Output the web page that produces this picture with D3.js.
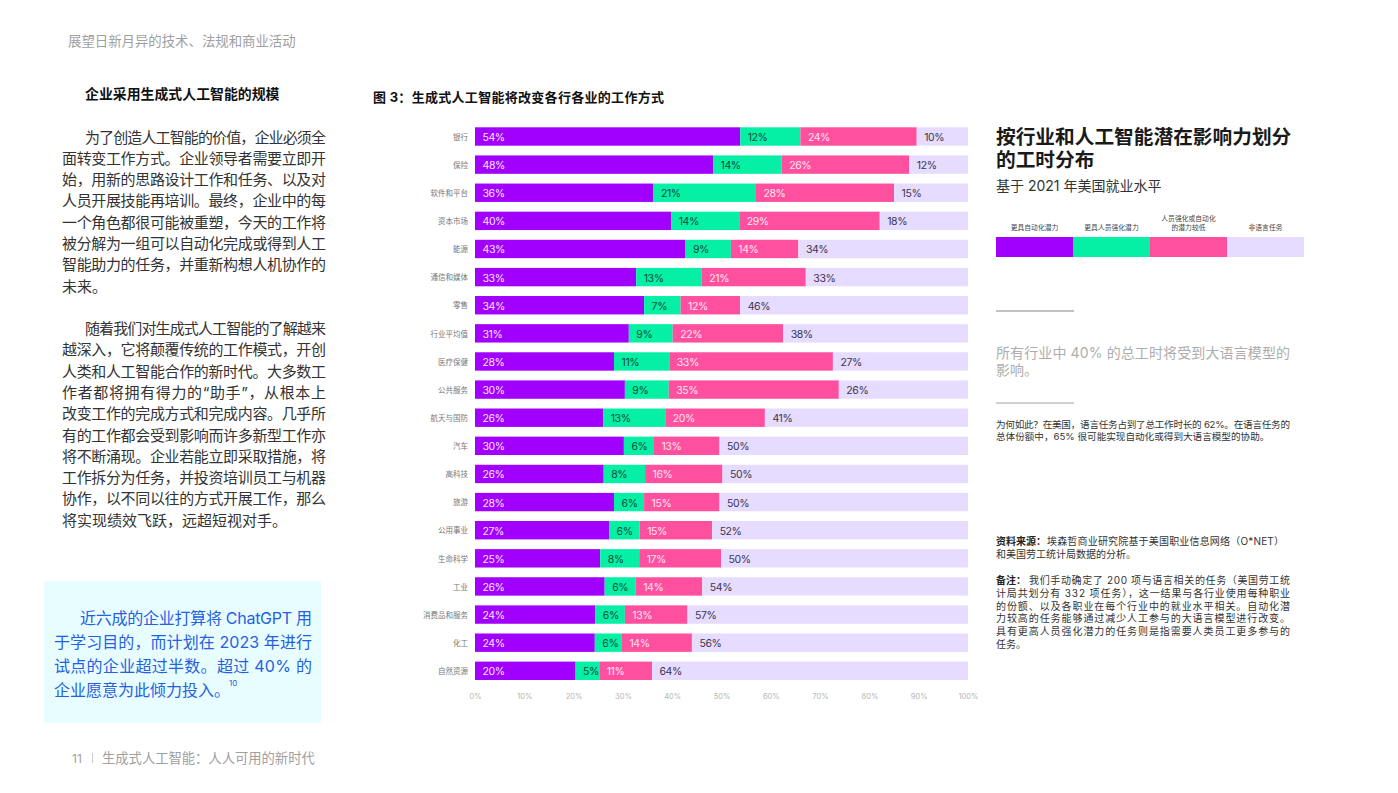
<!DOCTYPE html>
<html lang="zh-CN">
<head>
<meta charset="utf-8">
<script src="https://cdn.jsdelivr.net/npm/d3@7"></script>
<style>
  html, body { margin: 0; padding: 0; background: #fff; overflow: hidden; }
  text { font-family: Inter, "Noto Sans CJK SC", sans-serif; }
</style>
</head>
<body>
<svg id="page" width="1398" height="793"></svg>
<script>
// chart data
const industries = ["银行", "保险", "软件和平台", "资本市场", "能源", "通信和媒体", "零售", "行业平均值", "医疗保健", "公共服务",
  "航天与国防", "汽车", "高科技", "旅游", "公用事业", "生命科学", "工业", "消费品和服务", "化工", "自然资源"];
const automation = [53.8, 48.3, 36.2, 39.8, 42.7, 32.7, 34.3, 31.2, 28.2, 30.4, 26, 30.2, 26.1, 28.2, 27.2, 25.4, 26.3, 24.4, 24.3, 20.4];
const augmentation = [12.2, 13.9, 20.8, 13.8, 9.2, 13.3, 7.4, 8.9, 11.2, 8.9, 12.6, 6.1, 8.4, 6.1, 6.2, 7.9, 6.3, 6, 5.5, 4.8];
const lowPotential = [23.6, 25.9, 28, 28.5, 13.7, 21.1, 12.1, 22.4, 33.2, 34.5, 20.2, 13.3, 15.7, 15.3, 14.7, 16.6, 13.5, 12.7, 14.2, 10.7];
const nonLanguage = [10.4, 11.9, 15, 17.9, 34.4, 32.9, 46.2, 37.5, 27.4, 26.2, 41.2, 50.4, 49.8, 50.4, 51.9, 50.1, 53.9, 56.9, 56, 64.1];
const xTicks = [0, 10, 20, 30, 40, 50, 60, 70, 80, 90, 100];

const seriesKeys = ["automation", "augmentation", "lowPotential", "nonLanguage"];
const seriesColors = ["#a100ff", "#05f0a5", "#ff50a0", "#e6dcff"];
const labelColors = ["#f6e6ff", "#0b4a3a", "#ffe6f2", "#3a3550"];
const legendLabels = [["更具自动化潜力"], ["更具人员强化潜力"], ["人员强化或自动化", "的潜力较低"], ["非语言任务"]];

// page text, full width punctuation written as escapes
const para1 = ["为了创造人工智能的价值\uFF0C企业必须全", "面转变工作方式。企业领导者需要立即开", "始\uFF0C用新的思路设计工作和任务、以及对", "人员开展技能再培训。最终\uFF0C企业中的每",
  "一个角色都很可能被重塑\uFF0C今天的工作将", "被分解为一组可以自动化完成或得到人工", "智能助力的任务\uFF0C并重新构想人机协作的", "未来。"];
const para2 = ["随着我们对生成式人工智能的了解越来", "越深入\uFF0C它将颠覆传统的工作模式\uFF0C开创", "人类和人工智能合作的新时代。大多数工", "作者都将拥有得力的\u201C助手\u201D\uFF0C从根本上",
  "改变工作的完成方式和完成内容。几乎所", "有的工作都会受到影响而许多新型工作亦", "将不断涌现。企业若能立即采取措施\uFF0C将", "工作拆分为任务\uFF0C并投资培训员工与机器",
  "协作\uFF0C以不同以往的方式开展工作\uFF0C那么", "将实现绩效飞跃\uFF0C远超短视对手。"];
const callout = ["近六成的企业打算将 ChatGPT 用", "于学习目的\uFF0C而计划在 2023 年进行", "试点的企业超过半数。超过 40% 的", "企业愿意为此倾力投入。"];
const whyText = ["为何如此\uFF1F在美国\uFF0C语言任务占到了总工作时长的 62%。在语言任务的", "总体份额中\uFF0C65% 很可能实现自动化或得到大语言模型的协助。"];
const noteText = ["我们手动确定了 200 项与语言相关的任务\uFF08美国劳工统", "计局共划分有 332 项任务\uFF09\uFF0C这一结果与各行业使用每种职业", "的份额、以及各职业在每个行业中的就业水平相关。自动化潜",
  "力较高的任务能够通过减少人工参与的大语言模型进行改变。", "具有更高人员强化潜力的任务则是指需要人类员工更多参与的", "任务。"];

const svg = d3.select("#page");

// draws lines of text, with opt.right the lines get stretched to that edge (justified)
function textBlock(lines, opt) {
  svg.append("g").selectAll("text")
    .data(lines)
    .enter()
    .append("text")
    .attr("x", (d, i) => (i === 0 && opt.indent ? opt.x + opt.indent : opt.x))
    .attr("y", (d, i) => opt.y + i * opt.step)
    .attr("dominant-baseline", "central")
    .attr("font-size", opt.size)
    .attr("font-weight", opt.weight || 400)
    .attr("fill", opt.color)
    .attr("textLength", function (d, i) {
      if (!opt.right || (opt.lastFree && i === lines.length - 1)) return null;
      return opt.right - (i === 0 && opt.indent ? opt.x + opt.indent : opt.x);
    })
    .attr("lengthAdjust", "spacing")
    .text((d) => d);
}

// left column
textBlock(["展望日新月异的技术、法规和商业活动"], { x: 68, y: 41, step: 0, size: 13.4, color: "#a0a0a0" });
textBlock(["企业采用生成式人工智能的规模"], { x: 85, y: 94, step: 0, size: 13.9, weight: 700, color: "#111" });
textBlock(para1, { x: 62, y: 137, step: 21.3, size: 15, color: "#333", indent: 23, right: 326, lastFree: true });
textBlock(para2, { x: 62, y: 328.5, step: 21.3, size: 15, color: "#333", indent: 23, right: 326, lastFree: true });

svg.append("rect").attr("x", 44).attr("y", 581).attr("width", 277).attr("height", 142).attr("fill", "#e8fdff");
textBlock(callout, { x: 54, y: 618, step: 24, size: 16, color: "#2460e0", indent: 26, right: 312, lastFree: true });
svg.append("text").attr("x", 229).attr("y", 683).attr("font-size", 8).attr("fill", "#2460e0")
  .attr("dominant-baseline", "central").text("10");

textBlock(["11"], { x: 72, y: 758, step: 0, size: 12, color: "#a0a0a0" });
svg.append("line").attr("x1", 92.5).attr("x2", 92.5).attr("y1", 753).attr("y2", 763).attr("stroke", "#ccc");
textBlock(["生成式人工智能\uFF1A人人可用的新时代"], { x: 102, y: 758, step: 0, size: 13.3, color: "#a0a0a0" });

// chart
textBlock(["图 3\uFF1A生成式人工智能将改变各行各业的工作方式"], { x: 373, y: 97, step: 0, size: 13, weight: 700, color: "#111", right: 664 });

const x = d3.scaleLinear().domain([0, 100]).range([475, 968]);
const y = d3.scaleBand().domain(industries).range([127.3, 680]).paddingInner(0.346);

const table = industries.map((name, i) => ({
  name: name,
  automation: automation[i],
  augmentation: augmentation[i],
  lowPotential: lowPotential[i],
  nonLanguage: nonLanguage[i],
}));
const stacked = d3.stack().keys(seriesKeys)(table);

const layer = svg.append("g")
  .selectAll("g")
  .data(stacked)
  .enter()
  .append("g")
  .attr("fill", (d, i) => seriesColors[i]);

layer.selectAll("rect")
  .data((d) => d)
  .enter()
  .append("rect")
  .attr("x", (d) => x(d[0]))
  .attr("y", (d) => y(d.data.name))
  .attr("width", (d) => x(d[1]) - x(d[0]))
  .attr("height", y.bandwidth());

layer.each(function (s, si) {
  d3.select(this).selectAll("text")
    .data(s)
    .enter()
    .append("text")
    .attr("x", (d) => x(d[0]) + 7.5)
    .attr("y", (d) => y(d.data.name) + y.bandwidth() / 2 + 1)
    .attr("dominant-baseline", "central")
    .attr("font-size", 10.5)
    .attr("letter-spacing", -0.4)
    .attr("fill", labelColors[si])
    .text((d) => Math.round(d[1] - d[0]) + "%");
});

// category labels
svg.append("g").selectAll("text")
  .data(industries)
  .enter()
  .append("text")
  .attr("x", 468)
  .attr("y", (d) => y(d) + y.bandwidth() / 2 + 0.7)
  .attr("text-anchor", "end")
  .attr("dominant-baseline", "central")
  .attr("font-size", 7.5)
  .attr("fill", "#777")
  .text((d) => d);

// x axis, labels only
const xAxis = svg.append("g")
  .attr("transform", "translate(0,691)")
  .call(d3.axisBottom(x).tickValues(xTicks).tickSize(0).tickFormat((d) => d + "%"));
xAxis.select(".domain").remove();
xAxis.selectAll("text")
  .attr("font-family", 'Inter, "Noto Sans CJK SC", sans-serif')
  .attr("font-size", 7.5)
  .attr("fill", "#b5b5b5");

// right column
textBlock(["按行业和人工智能潜在影响力划分", "的工时分布"], { x: 996, y: 137, step: 23, size: 19.7, weight: 700, color: "#1a1a1a" });
textBlock(["基于 2021 年美国就业水平"], { x: 996, y: 185, step: 0, size: 14, color: "#333" });

// legend
const legendX = d3.scaleBand().domain(seriesKeys).range([996, 1304]);
svg.append("g").selectAll("rect")
  .data(seriesKeys)
  .enter()
  .append("rect")
  .attr("x", (d) => legendX(d))
  .attr("y", 237)
  .attr("width", legendX.bandwidth())
  .attr("height", 20)
  .attr("fill", (d, i) => seriesColors[i]);

seriesKeys.forEach((k, i) => {
  const lines = legendLabels[i];
  svg.append("g").selectAll("text")
    .data(lines)
    .enter()
    .append("text")
    .attr("x", legendX(k) + legendX.bandwidth() / 2)
    .attr("y", (d, j) => 227 - (lines.length - 1 - j) * 9)
    .attr("text-anchor", "middle")
    .attr("dominant-baseline", "central")
    .attr("font-size", 6.8)
    .attr("fill", "#444")
    .text((d) => d);
});

svg.append("line").attr("x1", 996).attr("x2", 1074).attr("y1", 311).attr("y2", 311).attr("stroke", "#666").attr("stroke-width", 0.8);
textBlock(["所有行业中 40% 的总工时将受到大语言模型的", "影响。"], { x: 996, y: 352, step: 17, size: 14, color: "#adadad", right: 1290, lastFree: true });
svg.append("line").attr("x1", 996).attr("x2", 1074).attr("y1", 403).attr("y2", 403).attr("stroke", "#888").attr("stroke-width", 0.8);
textBlock(whyText, { x: 996, y: 424, step: 12.5, size: 9.6, color: "#333", right: 1290, lastFree: true });

textBlock(["资料来源\uFF1A"], { x: 996, y: 541, step: 0, size: 10, weight: 700, color: "#222" });
textBlock(["埃森哲商业研究院基于美国职业信息网络\uFF08O*NET\uFF09"], { x: 1047, y: 541, step: 0, size: 10, color: "#333", right: 1284 });
textBlock(["和美国劳工统计局数据的分析。"], { x: 996, y: 554, step: 0, size: 10, color: "#333" });
textBlock(["备注\uFF1A"], { x: 996, y: 580, step: 0, size: 10, weight: 700, color: "#222" });
textBlock(noteText, { x: 996, y: 580, step: 12.8, size: 10, color: "#333", indent: 33, right: 1290, lastFree: true });
</script>
</body>
</html>
